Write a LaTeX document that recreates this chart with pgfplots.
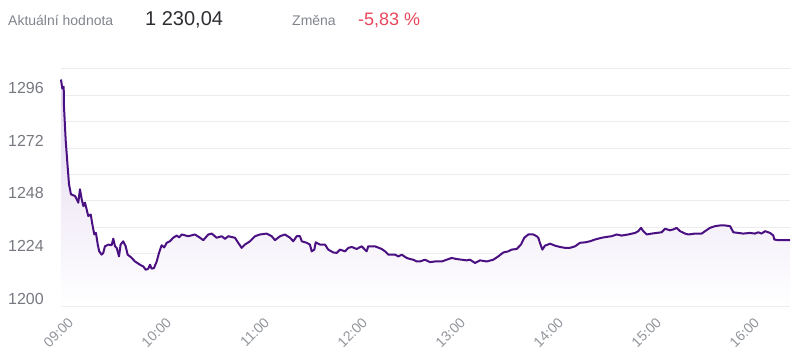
\documentclass[border=0pt]{standalone}
\usepackage{pgfplots}
\pgfplotsset{compat=1.18}
\usepackage{pgfplotstable}
\usepackage{fontspec}
\setmainfont{Liberation Sans}
\definecolor{linepurple}{RGB}{74,16,130}
\definecolor{fillpurple}{RGB}{226,213,238}
\definecolor{gridgray}{RGB}{236,236,238}
\definecolor{labgray}{RGB}{118,121,128}
\definecolor{xlabgray}{RGB}{145,148,155}
\definecolor{hdrgray}{RGB}{128,132,140}
\definecolor{valdark}{RGB}{45,45,50}
\definecolor{chgred}{RGB}{232,71,91}
\pgfplotstableread{
t v
0 1303.2
0.8 1299.1
1.65 1299.9
1.84 1290.7
2.88 1275.4
4.1 1263.2
4.9 1255.5
6.1 1250.9
8.6 1250.1
9.6 1248.6
10.6 1247.1
11.6 1253.2
12.7 1248.6
13.7 1245.5
14.7 1247.1
15.7 1244.0
16.7 1241.0
18.2 1241.7
19.2 1237.2
20.4 1232.6
21.4 1233.3
22.5 1228.0
23.4 1224.9
24.9 1223.4
25.9 1224.2
26.9 1227.2
29.0 1228.0
31.0 1227.7
32.0 1230.7
33.1 1227.2
34.1 1226.5
35.5 1222.6
36.5 1228.0
38.1 1229.5
39.6 1227.2
40.8 1223.4
42.9 1222.2
45.3 1220.3
48.4 1218.8
50.4 1218.0
51.9 1216.5
53.4 1217.0
54.5 1218.8
55.5 1217.0
56.9 1217.3
58.6 1220.3
60.0 1224.2
61.6 1227.7
63.2 1226.7
64.7 1228.8
66.7 1229.5
68.7 1231.1
70.8 1232.1
72.4 1231.3
73.9 1232.6
77.9 1231.8
82.0 1232.6
85.1 1231.1
87.1 1230.0
90.2 1232.6
92.3 1233.0
95.3 1231.1
98.4 1231.8
100.4 1230.6
102.4 1231.8
106.5 1231.1
108.5 1228.8
110.6 1226.5
112.6 1228.0
115.7 1229.5
118.8 1231.8
121.8 1232.6
125.9 1233.0
129.0 1231.8
131.0 1230.0
134.1 1231.8
137.1 1232.6
140.2 1231.1
142.2 1229.5
144.3 1231.8
146.3 1231.8
147.4 1229.5
150.4 1228.8
152.4 1228.0
153.5 1224.9
155.1 1225.7
155.9 1229.0
158.6 1228.0
161.6 1228.0
163.6 1225.7
166.7 1224.4
168.8 1224.2
170.8 1225.7
173.9 1224.9
175.9 1226.5
178.0 1226.9
181.0 1226.0
184.1 1227.2
187.1 1224.9
188.1 1227.2
192.2 1227.2
196.3 1226.0
198.4 1224.9
200.4 1223.4
204.5 1223.4
206.5 1222.6
208.6 1223.4
211.6 1221.9
213.7 1221.4
215.7 1221.1
217.8 1220.3
219.8 1220.3
222.8 1221.1
225.9 1220.0
229.0 1220.3
233.1 1220.3
236.1 1221.1
239.2 1221.9
242.2 1221.4
245.3 1221.1
248.4 1220.8
250.4 1221.1
253.5 1219.6
256.5 1220.8
260.6 1220.3
264.7 1221.1
267.7 1222.6
270.8 1224.4
273.8 1224.9
275.9 1225.7
279.0 1226.0
281.6 1228.0
283.6 1231.1
286.1 1232.6
289.1 1232.6
291.2 1231.8
292.2 1231.1
293.2 1228.8
294.7 1225.7
296.3 1227.5
299.4 1228.4
302.4 1227.5
305.5 1226.9
308.6 1226.5
311.6 1226.5
314.7 1227.2
317.7 1228.8
320.8 1229.0
323.9 1229.5
326.9 1230.3
331.0 1231.1
334.1 1231.5
337.1 1231.8
340.2 1232.6
343.2 1232.1
347.3 1232.6
351.4 1233.3
353.4 1234.1
355.1 1235.6
356.5 1234.1
358.6 1232.6
361.6 1233.0
364.7 1233.3
367.7 1233.6
369.8 1235.2
372.8 1234.5
374.9 1234.9
376.9 1235.6
379.0 1234.1
382.0 1233.0
384.1 1232.6
388.1 1233.0
392.2 1233.0
394.3 1234.1
397.3 1235.6
400.4 1236.4
403.4 1236.7
406.5 1236.7
409.6 1236.4
411.6 1233.6
414.6 1233.3
417.7 1233.0
421.8 1233.3
424.8 1233.0
426.9 1233.6
428.9 1233.0
431.0 1234.1
434.1 1233.3
436.1 1232.1
436.7 1230.3
439.1 1230.0
446.3 1230.04
}\pricedata
\begin{document}
\begin{tikzpicture}[x=1pt,y=1pt]
\useasboundingbox (-61,-56) rectangle (739,306);
\node[anchor=base west, inner sep=0pt, text=hdrgray, font=\fontsize{14}{16}\selectfont] at (-53,280.5) {Aktuální hodnota};
\node[anchor=base west, inner sep=0pt, text=valdark, font=\fontsize{20}{23}\selectfont] at (84,280.5) {1 230,04};
\node[anchor=base west, inner sep=0pt, text=hdrgray, font=\fontsize{14}{16}\selectfont] at (231,280.5) {Změna};
\node[anchor=base west, inner sep=0pt, text=chgred, font=\fontsize{18}{21}\selectfont] at (297,280.5) {-5,83 \%};
\begin{axis}[
  at={(0,0)}, anchor=south west,
  scale only axis, width=729pt, height=237pt,
  xmin=0, xmax=446.3, ymin=1200, ymax=1308,
  axis line style={draw=none},
  tick style={draw=none},
  major tick length=0pt, minor tick length=0pt,
  xtick={0,60,120,180,240,300,360,420},
  xticklabels={09:00,10:00,11:00,12:00,13:00,14:00,15:00,16:00},
  ytick={1200,1224,1248,1272,1296},
  minor ytick={1212,1236,1260,1284,1308},
  ymajorgrids, yminorgrids,
  major grid style={draw=gridgray, line width=1pt},
  minor grid style={draw=gridgray, line width=1pt},
  /pgf/number format/assume math mode=true,
  yticklabel={\pgfmathprintnumber[fixed,precision=0,1000 sep={}]{\tick}},
  yticklabel style={anchor=base west, inner sep=0pt, xshift=-53pt, yshift=2pt, text=labgray, font=\fontsize{16}{18}\selectfont},
  xticklabel style={rotate=45, anchor=east, inner sep=0pt, xshift=-3pt, yshift=-17pt, text=xlabgray, font=\fontsize{14}{16}\selectfont},
  clip=false,
]
\addplot[draw=none, top color=fillpurple, bottom color=white] table[x=t,y=v] {\pricedata} -- (axis cs:446.3,1200) -- (axis cs:0,1200) -- cycle;
\addplot[linepurple, line width=2pt, line join=round] table[x=t,y=v] {\pricedata};
\end{axis}
\end{tikzpicture}
\end{document}
